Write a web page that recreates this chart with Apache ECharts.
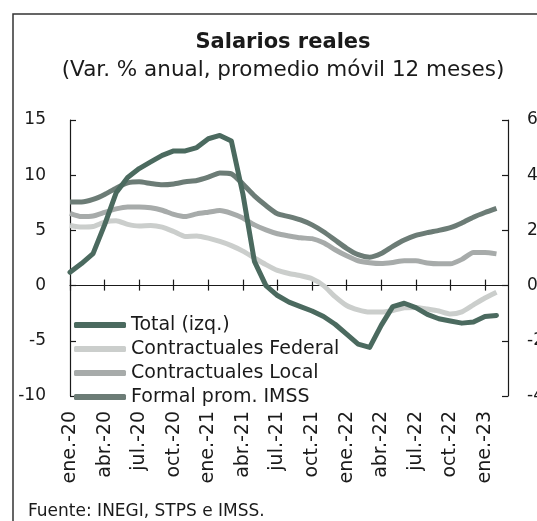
<!DOCTYPE html>
<html>
<head>
<meta charset="utf-8">
<script src="https://cdn.jsdelivr.net/npm/echarts@6/dist/echarts.min.js"></script>
<style>
  html, body { margin: 0; padding: 0; background: #fff; }
  #main { width: 537px; height: 521px; }
</style>
</head>
<body>
<div id="main"></div>
<script>
// meses (ene.-20 a mar.-23)
var meses = [
  'ene.-20','feb.-20','mar.-20','abr.-20','may.-20','jun.-20','jul.-20','ago.-20','sep.-20','oct.-20','nov.-20','dic.-20',
  'ene.-21','feb.-21','mar.-21','abr.-21','may.-21','jun.-21','jul.-21','ago.-21','sep.-21','oct.-21','nov.-21','dic.-21',
  'ene.-22','feb.-22','mar.-22','abr.-22','may.-22','jun.-22','jul.-22','ago.-22','sep.-22','oct.-22','nov.-22','dic.-22',
  'ene.-23','feb.-23','mar.-23'
];

// Total (eje izquierdo)
var total = [1.2, 2.0, 2.9, 5.5, 8.4, 9.8, 10.6, 11.2, 11.8, 12.2, 12.2, 12.5,
  13.3, 13.6, 13.1, 8.3, 2.2, 0.0, -0.9, -1.5, -1.9, -2.3, -2.8, -3.5,
  -4.4, -5.3, -5.6, -3.6, -1.9, -1.6, -2.0, -2.6, -3.0, -3.2, -3.4, -3.3,
  -2.8, -2.7];

// eje derecho
var federal = [2.18, 2.12, 2.14, 2.3, 2.35, 2.22, 2.16, 2.18, 2.12, 1.96, 1.78, 1.8,
  1.72, 1.6, 1.45, 1.25, 1.0, 0.76, 0.55, 0.44, 0.36, 0.25, 0.0, -0.4,
  -0.72, -0.88, -0.96, -0.96, -0.9, -0.8, -0.79, -0.85, -0.92, -1.03, -0.95, -0.7,
  -0.45, -0.24];

var local = [2.62, 2.5, 2.52, 2.65, 2.78, 2.85, 2.85, 2.82, 2.73, 2.58, 2.5, 2.6,
  2.66, 2.72, 2.62, 2.45, 2.2, 2.02, 1.88, 1.8, 1.73, 1.7, 1.55, 1.3,
  1.08, 0.9, 0.83, 0.8, 0.84, 0.9, 0.9, 0.82, 0.79, 0.79, 0.95, 1.2,
  1.2, 1.15];

var imss = [3.03, 3.03, 3.12, 3.3, 3.53, 3.72, 3.76, 3.7, 3.65, 3.68, 3.76, 3.81,
  3.93, 4.08, 4.05, 3.68, 3.25, 2.9, 2.6, 2.5, 2.38, 2.2, 1.95, 1.65,
  1.35, 1.12, 1.03, 1.16, 1.42, 1.65, 1.82, 1.92, 2.0, 2.1, 2.27, 2.48,
  2.65, 2.8];

var fuente = 'DejaVu Sans';
var negro = '#1a1a1a';

var myChart = echarts.init(document.getElementById('main'));

var gridBox = { left: 70, right: 29, top: 120, bottom: 125, containLabel: false, outerBoundsMode: 'none' };

var option = {
  animation: false,
  textStyle: { fontFamily: fuente, color: negro },
  graphic: [
    { type: 'rect', shape: { x: 13, y: 14, width: 540, height: 520 },
      style: { fill: 'none', stroke: '#333', lineWidth: 1.5 } },
    { type: 'text', x: 283, y: 43,
      style: { text: 'Salarios reales', textAlign: 'center', textVerticalAlign: 'middle',
        font: 'bold 21px "DejaVu Sans"', fill: negro } },
    { type: 'text', x: 283, y: 70,
      style: { text: '(Var. % anual, promedio móvil 12 meses)', textAlign: 'center', textVerticalAlign: 'middle',
        font: '21.5px "DejaVu Sans"', fill: negro } },
    { type: 'text', x: 28, y: 512,
      style: { text: 'Fuente: INEGI, STPS e IMSS.', textAlign: 'left', textVerticalAlign: 'middle',
        font: '17px "DejaVu Sans"', fill: negro } }
  ],
  legend: {
    orient: 'vertical',
    left: 69,
    top: 310,
    itemWidth: 52,
    itemHeight: 6,
    itemGap: 4,
    icon: 'roundRect',
    textStyle: { fontFamily: fuente, fontSize: 19, color: negro, lineHeight: 20 },
    data: ['Total (izq.)', 'Contractuales Federal', 'Contractuales Local', 'Formal prom. IMSS']
  },
  grid: [
    Object.assign({}, gridBox),
    Object.assign({}, gridBox)
  ],
  xAxis: [
    { // etiquetas abajo
      type: 'category', data: meses, boundaryGap: false, gridIndex: 0, position: 'bottom',
      axisLine: { show: false, onZero: false },
      axisTick: { show: false },
      axisLabel: { rotate: 90, interval: 2, margin: 15, fontSize: 19, color: negro, fontFamily: fuente }
    },
    { // línea en cero, marcas hacia arriba
      type: 'category', data: meses, boundaryGap: false, gridIndex: 0, position: 'top',
      axisLine: { show: true, onZero: true, onZeroAxisIndex: 0, lineStyle: { color: negro, width: 1.2 } },
      axisTick: { show: true, interval: 2, length: 6, lineStyle: { color: negro, width: 1.2 } },
      axisLabel: { show: false }
    },
    { // marcas hacia abajo
      type: 'category', data: meses, boundaryGap: false, gridIndex: 1, position: 'bottom',
      axisLine: { show: false, onZero: true },
      axisTick: { show: true, interval: 2, length: 5, lineStyle: { color: negro, width: 1.2 } },
      axisLabel: { show: false }
    }
  ],
  yAxis: [
    {
      type: 'value', gridIndex: 0, min: -10, max: 15, interval: 5, position: 'left',
      axisLine: { show: true, lineStyle: { color: negro, width: 1.2 } },
      axisTick: { show: true, inside: true, length: 6, lineStyle: { color: negro, width: 1.2 } },
      axisLabel: { margin: 24, fontSize: 17, color: negro, fontFamily: fuente },
      splitLine: { show: false }
    },
    {
      type: 'value', gridIndex: 0, min: -4, max: 6, interval: 2, position: 'right',
      axisLine: { show: true, lineStyle: { color: negro, width: 1.2 } },
      axisTick: { show: true, inside: true, length: 6, lineStyle: { color: negro, width: 1.2 } },
      axisLabel: { margin: 19, fontSize: 17, color: negro, fontFamily: fuente },
      splitLine: { show: false }
    },
    {
      type: 'value', gridIndex: 1, min: -10, max: 15, interval: 5, show: false
    }
  ],
  series: [
    { name: 'Contractuales Federal', type: 'line', data: federal, xAxisIndex: 0, yAxisIndex: 1,
      symbol: 'none', smooth: 0.2, z: 2,
      lineStyle: { color: '#cbcecc', width: 5 }, itemStyle: { color: '#cbcecc' } },
    { name: 'Contractuales Local', type: 'line', data: local, xAxisIndex: 0, yAxisIndex: 1,
      symbol: 'none', smooth: 0.2, z: 2,
      lineStyle: { color: '#a7abaa', width: 5 }, itemStyle: { color: '#a7abaa' } },
    { name: 'Formal prom. IMSS', type: 'line', data: imss, xAxisIndex: 0, yAxisIndex: 1,
      symbol: 'none', smooth: 0.2, z: 2,
      lineStyle: { color: '#6c7c76', width: 5 }, itemStyle: { color: '#6c7c76' } },
    { name: 'Total (izq.)', type: 'line', data: total, xAxisIndex: 0, yAxisIndex: 0,
      symbol: 'none', z: 3,
      lineStyle: { color: '#4b6a5f', width: 5, cap: 'round', join: 'round' }, itemStyle: { color: '#4b6a5f' } }
  ]
};

myChart.setOption(option);
</script>
</body>
</html>
